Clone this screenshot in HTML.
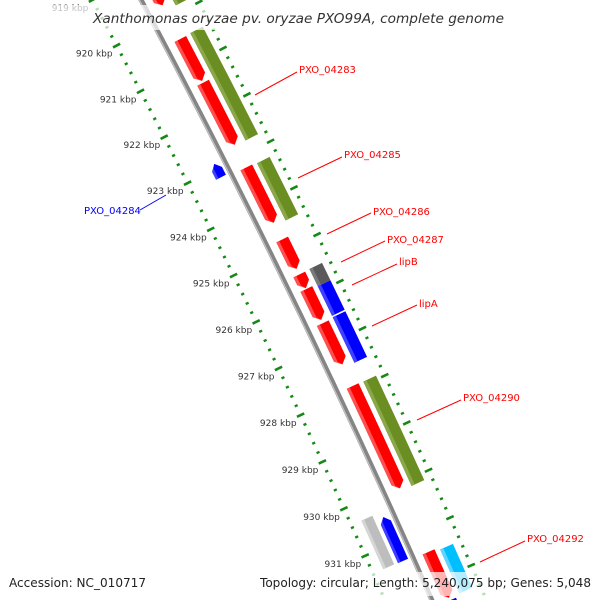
<!DOCTYPE html>
<html><head><meta charset="utf-8"><style>
html,body{margin:0;padding:0;background:#fff;width:600px;height:600px;overflow:hidden;}
svg{display:block;overflow:hidden;}
text{font-family:"DejaVu Sans","Liberation Sans",sans-serif;}
</style></head><body>
<svg id="map" width="600" height="600" viewBox="0 0 600 600" xmlns="http://www.w3.org/2000/svg">
<rect width="600" height="600" fill="#fff"/>
<g id="rulers"></g>
<g id="backbone"></g>
<g id="features"></g>
<g id="ticklabels"></g>
<g font-size="10" font-family="Liberation Sans, sans-serif">
<line x1="255" y1="95" x2="297" y2="72" stroke="#f00"/>
<text x="299" y="73" fill="#f00">PXO_04283</text>
<line x1="298" y1="178" x2="342" y2="157" stroke="#f00"/>
<text x="344" y="158" fill="#f00">PXO_04285</text>
<line x1="327" y1="234" x2="371" y2="213" stroke="#f00"/>
<text x="373" y="215" fill="#f00">PXO_04286</text>
<line x1="341" y1="262" x2="385" y2="241" stroke="#f00"/>
<text x="387" y="243" fill="#f00">PXO_04287</text>
<line x1="352" y1="285" x2="397" y2="264" stroke="#f00"/>
<text x="399" y="265" fill="#f00">lipB</text>
<line x1="372" y1="326" x2="417" y2="305" stroke="#f00"/>
<text x="419" y="307" fill="#f00">lipA</text>
<line x1="417" y1="420" x2="461" y2="400" stroke="#f00"/>
<text x="463" y="401" fill="#f00">PXO_04290</text>
<line x1="480" y1="562" x2="525" y2="541" stroke="#f00"/>
<text x="527" y="542" fill="#f00">PXO_04292</text>
<line x1="140" y1="210" x2="166" y2="195" stroke="#00f"/>
<text x="84" y="214" fill="#00f">PXO_04284</text>
</g>
<rect x="0" y="5" width="600" height="25" fill="#fff" opacity="0.7"/>
<text x="93" y="23" font-size="13" font-style="italic" fill="#333" textLength="411" lengthAdjust="spacingAndGlyphs">Xanthomonas oryzae pv. oryzae PXO99A, complete genome</text>
<rect x="0" y="572" width="600" height="24" fill="#fff" opacity="0.7"/>
<text x="9" y="587" font-size="12" fill="#222" textLength="137" lengthAdjust="spacingAndGlyphs">Accession: NC_010717</text>
<text x="260" y="587" font-size="12" fill="#222" textLength="331" lengthAdjust="spacingAndGlyphs">Topology: circular; Length: 5,240,075 bp; Genes: 5,048</text>
</svg>
<script>
// data (kbp)
const featStart = [918.8, 918.8, 920.46, 921.41, 920.45, 922.90, 923.24, 923.26, 924.79, 925.54, 925.85, 926.58, 925.53, 925.90, 926.56, 927.92, 927.93, 930.35, 930.46, 931.43, 931.48, 932.45];
const featEnd   = [919.73, 919.85, 921.37, 922.75, 922.77, 923.19, 924.43, 924.49, 925.42, 925.83, 926.51, 927.46, 925.90, 926.53, 927.53, 930.09, 930.14, 931.38, 931.39, 932.4, 932.4, 933.0];
const featStrand = [1,1,1,1,1,-1,1,1,1,1,1,1,1,1,1,1,1,-1,-1,1,1,1];
const featSlot = [1,2,1,1,2,1,1,2,1,1,1,1,2,2,2,1,2,2,1,1,2,1];
const featType = ["red","green","red","red","green","blue","red","green","red","red","red","red","dgray","blue","blue","red","green","lgray","blue","red","cyan","blue"];
const featArrow = [1,0,1,1,0,1,1,0,1,1,1,1,0,0,0,1,0,0,1,1,0,1];
const tickKbp = [919,920,921,922,923,924,925,926,927,928,929,930,931];
const tickLabels = ["919 kbp","920 kbp","921 kbp","922 kbp","923 kbp","924 kbp","925 kbp","926 kbp","927 kbp","928 kbp","929 kbp","930 kbp","931 kbp"];

const NS="http://www.w3.org/2000/svg";
const CX=-7810, CY=4223, A0=-28.12, DEG_PER_KBP=0.33;
const R_BB=9003, R_IN=8960, R_OUT=9053;
const lanes={"1_1":[9013,9026],"1_2":[9031,9045],"-1_1":[8987,8998],"-1_2":[8971,8983]};
const colors={red:["#ff0000","#ff5050"],green:["#6b8e23","#8aa84a"],blue:["#0000ff","#4040ff"],dgray:["#5a5a5a","#7a7a7a"],lgray:["#bdbdbd","#d6d6d6"],cyan:["#00bfff","#60d4ff"]};
function P(k,r){const a=(A0+DEG_PER_KBP*(k-919))*Math.PI/180;return [CX+r*Math.cos(a),CY+r*Math.sin(a)];}
function f(p){return p[0].toFixed(2)+" "+p[1].toFixed(2);}
function arcPath(k1,k2,r){return "M"+f(P(k1,r))+" A"+r+" "+r+" 0 0 1 "+f(P(k2,r));}
function mk(tag,attrs,parent){const e=document.createElementNS(NS,tag);for(const k in attrs)e.setAttribute(k,attrs[k]);parent.appendChild(e);return e;}

// backbone
const bb=document.getElementById("backbone");
const bbMain=mk("path",{d:arcPath(918.4,933.3,R_BB),stroke:"#858585","stroke-width":5,fill:"none"},bb);


const bbHi=mk("path",{d:arcPath(918.4,933.3,R_BB-1.6),stroke:"#c4c4c4","stroke-width":1.2,fill:"none"},bb);



// rulers
const rg=document.getElementById("rulers");
[R_IN,R_OUT].forEach(function(r,ri){
  for(let i=0;i<=72;i++){
    const k=918.4+i*0.2;
    const major=Math.abs(k-Math.round(k))<0.01;
    const h=major?4:1.6;
    const a=P(k,r-h),b=P(k,r+h);
    const ln=mk("line",{x1:a[0],y1:a[1],x2:b[0],y2:b[1],stroke:"#168a16","stroke-width":major?2.6:2.4},rg);
    
    
  }
});

// tick labels
const tl=document.getElementById("ticklabels");
tickKbp.forEach(function(k,i){
  const p=P(k,R_IN);
  const t=mk("text",{x:(p[0]-4).toFixed(1),y:(p[1]+11).toFixed(1),"text-anchor":"end","font-size":9,fill:"#333"},tl);
  t.textContent=tickLabels[i];
  
  
});

// features
const fg=document.getElementById("features");
const AH=0.12;
featStart.forEach(function(s,i){
  const e=featEnd[i],st=featStrand[i];
  const ln=lanes[st+"_"+featSlot[i]];
  const r1=ln[0],r2=ln[1],rm=(r1+r2)/2;
  const c=colors[featType[i]];
  let d,dh;
  const rs=r1+(r2-r1)*0.25;
  if(!featArrow[i]){
    d=arcPath(s,e,r1)+" L"+f(P(e,r2))+" A"+r2+" "+r2+" 0 0 0 "+f(P(s,r2))+" Z";
    dh=arcPath(s,e,r1)+" L"+f(P(e,rs))+" A"+rs+" "+rs+" 0 0 0 "+f(P(s,rs))+" Z";
  } else if(st>0){
    const h=Math.max(s,e-AH);
    d=arcPath(s,h,r1)+" L"+f(P(e,rm))+" L"+f(P(h,r2))+" A"+r2+" "+r2+" 0 0 0 "+f(P(s,r2))+" Z";
    dh=arcPath(s,h,r1)+" L"+f(P(e,rm))+" L"+f(P(h+AH*0.3,rs))+" A"+rs+" "+rs+" 0 0 0 "+f(P(s,rs))+" Z";
  } else {
    const h=Math.min(e,s+AH);
    d="M"+f(P(s,rm))+" L"+f(P(h,r1))+" A"+r1+" "+r1+" 0 0 1 "+f(P(e,r1))+" L"+f(P(e,r2))+" A"+r2+" "+r2+" 0 0 0 "+f(P(h,r2))+" Z";
    dh="M"+f(P(s,rm))+" L"+f(P(h,r1))+" A"+r1+" "+r1+" 0 0 1 "+f(P(e,r1))+" L"+f(P(e,rs))+" A"+rs+" "+rs+" 0 0 0 "+f(P(h-AH*0.3,rs))+" Z";
  }
  const g=mk("g",{},fg);
  
  
  const body=mk("path",{d:d,fill:c[0]},g);
  
  
  const hi=mk("path",{d:dh,fill:c[1]},g);
  
  
});
</script>
</body></html>
